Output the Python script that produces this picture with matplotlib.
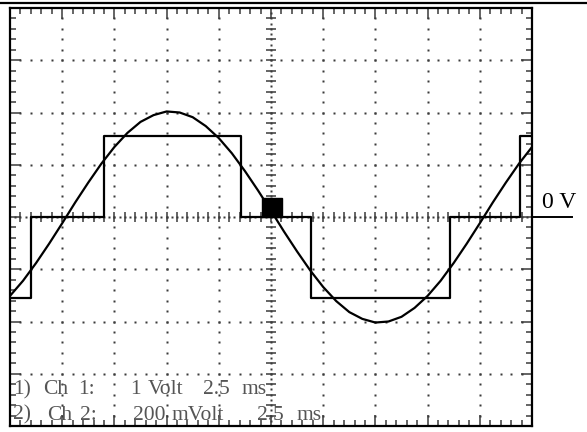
import numpy as np
import matplotlib
matplotlib.use("Agg")
import matplotlib.pyplot as plt
from matplotlib.patches import Rectangle
from matplotlib.lines import Line2D

# ---- data (screen divisions: x 0..10, y -4..4) ----
sine_x = [i * 0.25 for i in range(41)]
sine_y = [-1.51, -1.22, -0.88, -0.51, -0.12, 0.28, 0.66, 1.02, 1.34, 1.61,
          1.82, 1.95, 2.02, 2.00, 1.91, 1.74, 1.51, 1.22, 0.88, 0.51,
          0.12, -0.28, -0.66, -1.02, -1.34, -1.61, -1.82, -1.95, -2.02, -2.00,
          -1.91, -1.74, -1.51, -1.22, -0.88, -0.51, -0.12, 0.28, 0.66, 1.02, 1.34]
stair_x = [0.0, 0.40, 1.80, 4.43, 5.76, 8.43, 9.77, 10.0]
stair_y = [-1.55, 0.0, 1.55, 0.0, -1.55, 0.0, 1.55, 1.55]
trigger_x = (4.83, 5.21)
trigger_y = (0.0, 0.37)
label_line1 = [("1)", 13), ("Ch", 43), ("1:", 78), ("1", 130), ("Volt", 148), ("2.5", 203), ("ms", 242)]
label_line2 = [("2)", 13), ("Ch", 47), ("2:", 80), ("200", 133), ("mVolt", 172), ("2.5", 257), ("ms", 297)]
zero_label = "0 V"

W, H = 587, 432
fig = plt.figure(figsize=(W / 100, H / 100), dpi=100)
L, R, T, B = 10, 532, 8, 426
ax = fig.add_axes([L / W, 1 - B / H, (R - L) / W, (B - T) / H])
ax.set_xlim(0, 10)
ax.set_ylim(-4, 4)

dot_c = "#3a3a3a"
# grid dots
minor_x = np.round(np.arange(0.2, 10.0, 0.2), 3)
minor_y = np.round(np.arange(-3.8, 4.0, 0.2), 3)
for k in [1, 2, 3, 4, 6, 7, 8, 9]:
    ax.plot(np.full_like(minor_y, k), minor_y, ls="none", marker="s", ms=1.6, mec="none", mfc=dot_c)
for k in [-3, -2, -1, 1, 2, 3]:
    ax.plot(minor_x, np.full_like(minor_x, k), ls="none", marker="s", ms=1.6, mec="none", mfc=dot_c)
# center lines
fine_x = np.round(np.arange(0.1, 10.0, 0.1), 3)
fine_y = np.round(np.arange(-3.9, 4.0, 0.1), 3)
ax.plot(np.full_like(fine_y, 5), fine_y, ls="none", marker="s", ms=1.6, mec="none", mfc=dot_c)
ax.plot(fine_x, np.zeros_like(fine_x), ls="none", marker="s", ms=1.6, mec="none", mfc=dot_c)
ax.plot(np.full_like(minor_y, 5), minor_y, ls="none", marker="_", ms=7, mew=1.1, color=dot_c)
ax.plot(minor_x, np.zeros_like(minor_x), ls="none", marker="|", ms=7, mew=1.1, color=dot_c)

# signals
ax.plot(sine_x, sine_y, color="black", lw=1.6, solid_joinstyle="round")
ax.step(stair_x, stair_y, where="post", color="black", lw=1.6)
ax.add_patch(Rectangle((trigger_x[0], trigger_y[0]), trigger_x[1] - trigger_x[0],
                       trigger_y[1] - trigger_y[0], color="black", zorder=5))

# frame and edge ticks
for s in ax.spines.values():
    s.set_linewidth(1.6)
    s.set_color("black")
ax.set_xticks(range(0, 11))
ax.set_yticks(range(-4, 5))
ax.set_xticks(minor_x, minor=True)
ax.set_yticks(minor_y, minor=True)
ax.tick_params(which="both", direction="in", top=True, right=True,
               labelbottom=False, labelleft=False, color=dot_c)
ax.tick_params(which="major", length=8, width=1.1)
ax.tick_params(which="minor", length=4, width=1.1)

# zero level marker
ax.plot([10, 10.77], [0, 0], color="black", lw=1.4, clip_on=False)
fig.text(542 / W, 1 - 203 / H, zero_label, fontsize=17, family="Liberation Serif",
         color="black", ha="left", va="center")

# channel labels
for txt, x in label_line1:
    fig.text(x / W, 1 - 390 / H, txt, fontsize=15.5, family="Liberation Serif",
             color="#555555", ha="left", va="center")
for txt, x in label_line2:
    fig.text(x / W, 1 - 415 / H, txt, fontsize=15.5, family="Liberation Serif",
             color="#555555", ha="left", va="center")

# top rule
fig.add_artist(Line2D([0, 1], [1 - 2.5 / H, 1 - 2.5 / H], color="black", lw=1.6))

fig.savefig("out.png", dpi=100)
